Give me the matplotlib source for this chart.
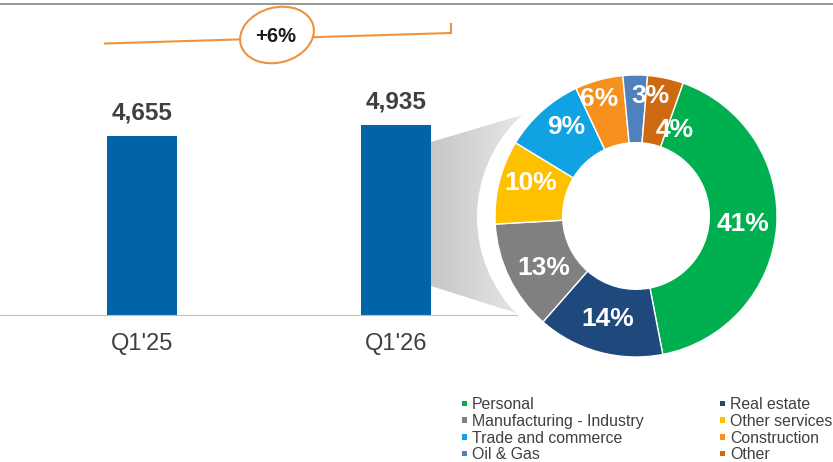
import matplotlib
matplotlib.use("Agg")
import matplotlib.pyplot as plt
import numpy as np
from matplotlib.patches import Polygon, Circle, Ellipse, Rectangle

plt.rcParams['font.family'] = ['Liberation Sans', 'DejaVu Sans']

W, H = 833, 462

quarters = ["Q1'25", "Q1'26"]
totals = [4655, 4935]
growth_label = "+6%"

sectors = ["Personal", "Real estate", "Manufacturing - Industry", "Other services",
           "Trade and commerce", "Construction", "Oil & Gas", "Other"]
shares = [41.5, 14.5, 12.6, 9.6, 9.3, 5.5, 2.8, 4.1]
share_labels = ["41%", "14%", "13%", "10%", "9%", "6%", "3%", "4%"]
sector_colors = ["#00B050", "#1F487C", "#808080", "#FFC000",
                 "#10A2E3", "#F7901E", "#4F81BD", "#CD6A11"]

BAR_BLUE = "#0064A7"
TEXT_DARK = "#404040"
ORANGE = "#F0923B"

fig = plt.figure(figsize=(W / 100, H / 100), dpi=100)

# decoration layer, pixel coordinates
deco = fig.add_axes([0, 0, 1, 1], zorder=0)
deco.axis('off')
deco.set_xlim(0, W)
deco.set_ylim(H, 0)

deco.plot([0, W], [4, 4], color="#8f8f8f", lw=1.3)

# grey cone from the Q1'26 bar to the donut, light towards the donut
cone = Polygon([(431, 142), (532, 112), (532, 318), (431, 286)], closed=True,
               fc='none', ec='none')
deco.add_patch(cone)
c_left = np.array([0xc6, 0xc6, 0xc6]) / 255
c_right = np.array([0xea, 0xea, 0xea]) / 255
n = 101
for i in range(n):
    t = i / (n - 1)
    strip = Rectangle((431 + i, 100), 1.2, 230, fc=c_left + (c_right - c_left) * t,
                      ec='none', zorder=1)
    deco.add_patch(strip)
    strip.set_clip_path(cone)
deco.add_patch(Circle((615, 217), 138, fc='white', ec='none', zorder=2))

# growth marker
deco.plot([105, 451, 451], [43.5, 33, 24], color=ORANGE, lw=1.5,
          solid_joinstyle='miter', zorder=3)
deco.add_patch(Ellipse((277, 35), 75, 55, angle=-15, fc='white', ec=ORANGE,
                       lw=1.5, zorder=4))
deco.text(276, 36, growth_label, ha='center', va='center', fontsize=14.5,
          fontweight='bold', color='#1a1a1a', zorder=5)

# legend
for i, (name, col) in enumerate(zip(sectors, sector_colors)):
    row, c = divmod(i, 2)
    x0 = [462, 720][c]
    yb = 409 + row * 16.8
    deco.add_patch(Rectangle((x0, yb - 8.5), 5.5, 5.5, fc=col, ec='none'))
    deco.text(x0 + 10, yb, name, fontsize=11.4, color=TEXT_DARK, va='baseline')

# bars
ax = fig.add_axes([0, (H - 315) / H, 517 / W, 310 / H], zorder=1)
ax.patch.set_alpha(0)
x = np.arange(len(quarters))
ax.bar(x, totals, width=70 / 254, color=BAR_BLUE)
ax.set_xlim(-142 / 254, (517 - 142) / 254)
ax.set_ylim(0, 310 * 4655 / 179.5)
for s in ['top', 'right', 'left']:
    ax.spines[s].set_visible(False)
ax.spines['bottom'].set_color('#bfbfbf')
ax.set_yticks([])
ax.set_xticks(x, quarters, fontsize=17, color=TEXT_DARK)
ax.tick_params(axis='x', length=0, pad=13)
for xi, v in zip(x, totals):
    ax.annotate(f"{v:,}", (xi, v), xytext=(0, 16), textcoords='offset points',
                ha='center', va='center', fontsize=17.5, fontweight='bold',
                color=TEXT_DARK)

# donut
pax = fig.add_axes([495 / W, (H - 357) / H, 282 / W, 282 / H], zorder=2)
wedges, _ = pax.pie(shares, colors=sector_colors, startangle=70.5,
                    counterclock=False, radius=1,
                    wedgeprops=dict(width=0.48, edgecolor='white', linewidth=1))
pax.set_xlim(-1, 1)
pax.set_ylim(-1, 1)
label_r = [0.76, 0.76, 0.75, 0.78, 0.80, 0.87, 0.86, 0.67]
label_shift = [0, 0, 3.5, -3.5, -4, 2, -7, -12]
for w, lab, r, d in zip(wedges, share_labels, label_r, label_shift):
    ang = np.deg2rad((w.theta1 + w.theta2) / 2 + d)
    pax.text(r * np.cos(ang), r * np.sin(ang), lab, ha='center', va='center',
             fontsize=19, fontweight='bold', color='white')

fig.savefig("out.png", dpi=100)
